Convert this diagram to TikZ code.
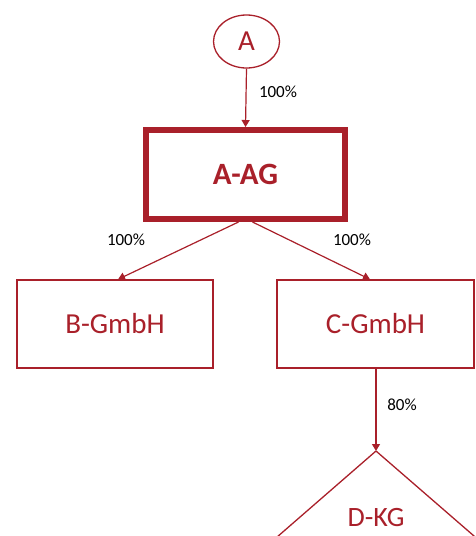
\documentclass[tikz,border=0pt]{standalone}
\usepackage{fontspec}
\setmainfont{Carlito}
\usetikzlibrary{arrows.meta,shapes.geometric}
\definecolor{ared}{RGB}{169,32,42}
\tikzset{
  box/.style={draw=ared, line width=1.3pt, text=ared, font=\fontsize{29}{31}\selectfont, inner sep=0pt},
  bigbox/.style={draw=ared, line width=6pt, text=ared, font=\fontsize{31}{33}\selectfont\bfseries, inner sep=0pt},
  arr/.style={draw=ared, line width=1.2pt, -{Triangle[width=8pt,length=7pt]}},
  pct/.style={font=\fontsize{17}{19}\selectfont, text=black, inner sep=0pt}
}
\begin{document}
\begin{tikzpicture}[x=1pt,y=-1pt]
\useasboundingbox (0,0) rectangle (475,536);
\clip (0,0) rectangle (475,536);
% shareholder
\node[box, ellipse, minimum width=66pt, minimum height=53pt] (A) at (246.5,41.5) {A};
% parent company
\node[bigbox, minimum width=199pt, minimum height=89pt] (AAG) at (245.5,174.5) {A-AG};
% subsidiaries
\node[box, minimum width=196pt, minimum height=88pt] (B) at (115,324) {B-GmbH};
\node[box, minimum width=197pt, minimum height=88pt] (C) at (375.5,324) {C-GmbH};
% limited partnership (triangle)
\coordinate (Dtop) at (376,451);
\draw[ared, line width=1.3pt] (Dtop) -- ++(-130,113) (Dtop) -- ++(128,111);
\node[text=ared, font=\fontsize{28}{30}\selectfont, inner sep=0pt] (D) at (376,518) {D-KG};
% shareholdings
\draw[arr] (A.south) -- (AAG.north);
\draw[arr] ([xshift=-7pt]AAG.south) -- ([xshift=3pt]B.north);
\draw[arr] ([xshift=7pt]AAG.south) -- ([xshift=-5.5pt]C.north);
\draw[arr] ([xshift=0.5pt]C.south) -- (Dtop);
% percentages
\node[pct] (p1) at (278,92) {100\%};
\node[pct] (p2) at (126,240) {100\%};
\node[pct] (p3) at (352,240) {100\%};
\node[pct] (p4) at (402,405) {80\%};
\end{tikzpicture}
\end{document}
